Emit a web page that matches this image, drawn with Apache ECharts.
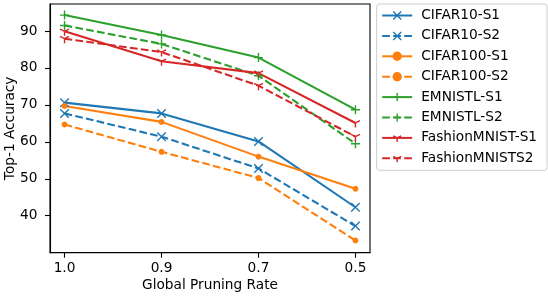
<!DOCTYPE html>
<html>
<head>
<meta charset="utf-8">
<script src="https://cdn.jsdelivr.net/npm/echarts@6/dist/echarts.min.js"></script>
<style>html,body{margin:0;padding:0;background:#fff;}#c{width:548px;height:299px;}</style>
</head>
<body>
<div id="c"></div>
<script>
const categories = ['1.0', '0.9', '0.7', '0.5'];
const cifar10S1 = [70.6, 67.7, 60.1, 42.3];
const cifar10S2 = [67.7, 61.4, 52.8, 37.2];
const cifar100S1 = [69.7, 65.4, 56.0, 47.3];
const cifar100S2 = [64.7, 57.3, 50.2, 33.3];
const emnistS1 = [94.3, 88.9, 82.8, 68.7];
const emnistS2 = [91.5, 86.5, 77.9, 59.5];
const fashionS1 = [89.9, 81.8, 78.6, 65.1];
const fashionS2 = [87.9, 84.3, 75.2, 61.4];
const yTicks = [40, 50, 60, 70, 80, 90];
const seriesNames = ['CIFAR10-S1', 'CIFAR10-S2', 'CIFAR100-S1', 'CIFAR100-S2', 'EMNISTL-S1', 'EMNISTL-S2', 'FashionMNIST-S1', 'FashionMNISTS2'];

const FONT = 'DejaVu Sans';
const FS = 13.7;
const BLUE = '#1f77b4', ORANGE = '#ff7f0e', GREEN = '#2ca02c', RED = '#d62728';
const DASH = [7.7, 3.3];
const SYM_X = 'path://M0,0 L10,10 M10,0 L0,10';
const SYM_PLUS = 'path://M5,0 L5,10 M0,5 L10,5';
const SYM_TRI = 'path://M5,0 M5,5 L5,10 M5,5 L9.33,2.5 M5,5 L0.67,2.5';

function mk(name, values, color, dashed, symbol, size) {
  return {
    name: name,
    type: 'line',
    data: categories.map((c, i) => [i, values[i]]),
    lineStyle: { color: color, width: 2.1, type: dashed ? DASH : 'solid' },
    symbol: symbol,
    symbolSize: size,
    showAllSymbol: true,
    itemStyle: { color: color, borderColor: color, borderWidth: 1.4 },
    emphasis: { disabled: true },
    animation: false
  };
}

const chart = echarts.init(document.getElementById('c'), null, { renderer: 'canvas' });
chart.setOption({
  animation: false,
  textStyle: { fontFamily: FONT },
  grid: {
    left: 50, right: 178, top: 4, bottom: 46.3,
    show: true, borderColor: '#000', borderWidth: 1.1, backgroundColor: 'transparent',
    containLabel: false, outerBoundsMode: 'none'
  },
  xAxis: {
    type: 'value', min: -0.15, max: 3.15,
    name: 'Global Pruning Rate', nameLocation: 'middle', nameGap: 26, nameMoveOverlap: false,
    nameTextStyle: { fontFamily: FONT, fontSize: FS, color: '#000' },
    axisLine: { show: true, onZero: false, lineStyle: { color: '#000', width: 1.1 } },
    axisTick: { show: true, length: 5, lineStyle: { color: '#000', width: 1.1 }, customValues: [0, 1, 2, 3] },
    axisLabel: { fontFamily: FONT, fontSize: FS, color: '#000', margin: 8.5, customValues: [0, 1, 2, 3],
      formatter: v => categories[Math.round(v)] },
    splitLine: { show: false }
  },
  yAxis: {
    type: 'value', min: 30, max: 97.3,
    name: 'Top-1 Accuracy', nameLocation: 'middle', nameGap: 32.5, nameRotate: 90, nameMoveOverlap: false,
    nameTextStyle: { fontFamily: FONT, fontSize: FS, color: '#000' },
    axisLine: { show: true, onZero: false, lineStyle: { color: '#000', width: 1.1 } },
    axisTick: { show: true, length: 5, lineStyle: { color: '#000', width: 1.1 }, customValues: yTicks },
    axisLabel: { fontFamily: FONT, fontSize: FS, color: '#000', margin: 12.5, customValues: yTicks },
    splitLine: { show: false }
  },
  legend: {
    orient: 'vertical', left: 376.7, top: 4,
    padding: [4.5, 10, 5, 4.5],
    itemWidth: 30, itemHeight: 10, itemGap: 6.4,
    textStyle: { fontFamily: FONT, fontSize: FS, color: '#000', padding: [0, 0, 0, 4] },
    borderColor: '#cccccc', borderWidth: 1, borderRadius: 3,
    backgroundColor: 'rgba(255,255,255,0.8)',
    itemStyle: { borderWidth: 1.4 },
    data: seriesNames,
    selectedMode: false
  },
  series: [
    mk(seriesNames[0], cifar10S1, BLUE, false, SYM_X, 8.5),
    mk(seriesNames[1], cifar10S2, BLUE, true, SYM_X, 8.5),
    mk(seriesNames[2], cifar100S1, ORANGE, false, 'circle', 4.5),
    mk(seriesNames[3], cifar100S2, ORANGE, true, 'circle', 4.5),
    mk(seriesNames[4], emnistS1, GREEN, false, SYM_PLUS, 9),
    mk(seriesNames[5], emnistS2, GREEN, true, SYM_PLUS, 9),
    mk(seriesNames[6], fashionS1, RED, false, SYM_TRI, 9),
    mk(seriesNames[7], fashionS2, RED, true, SYM_TRI, 9)
  ]
});
</script>
</body>
</html>
